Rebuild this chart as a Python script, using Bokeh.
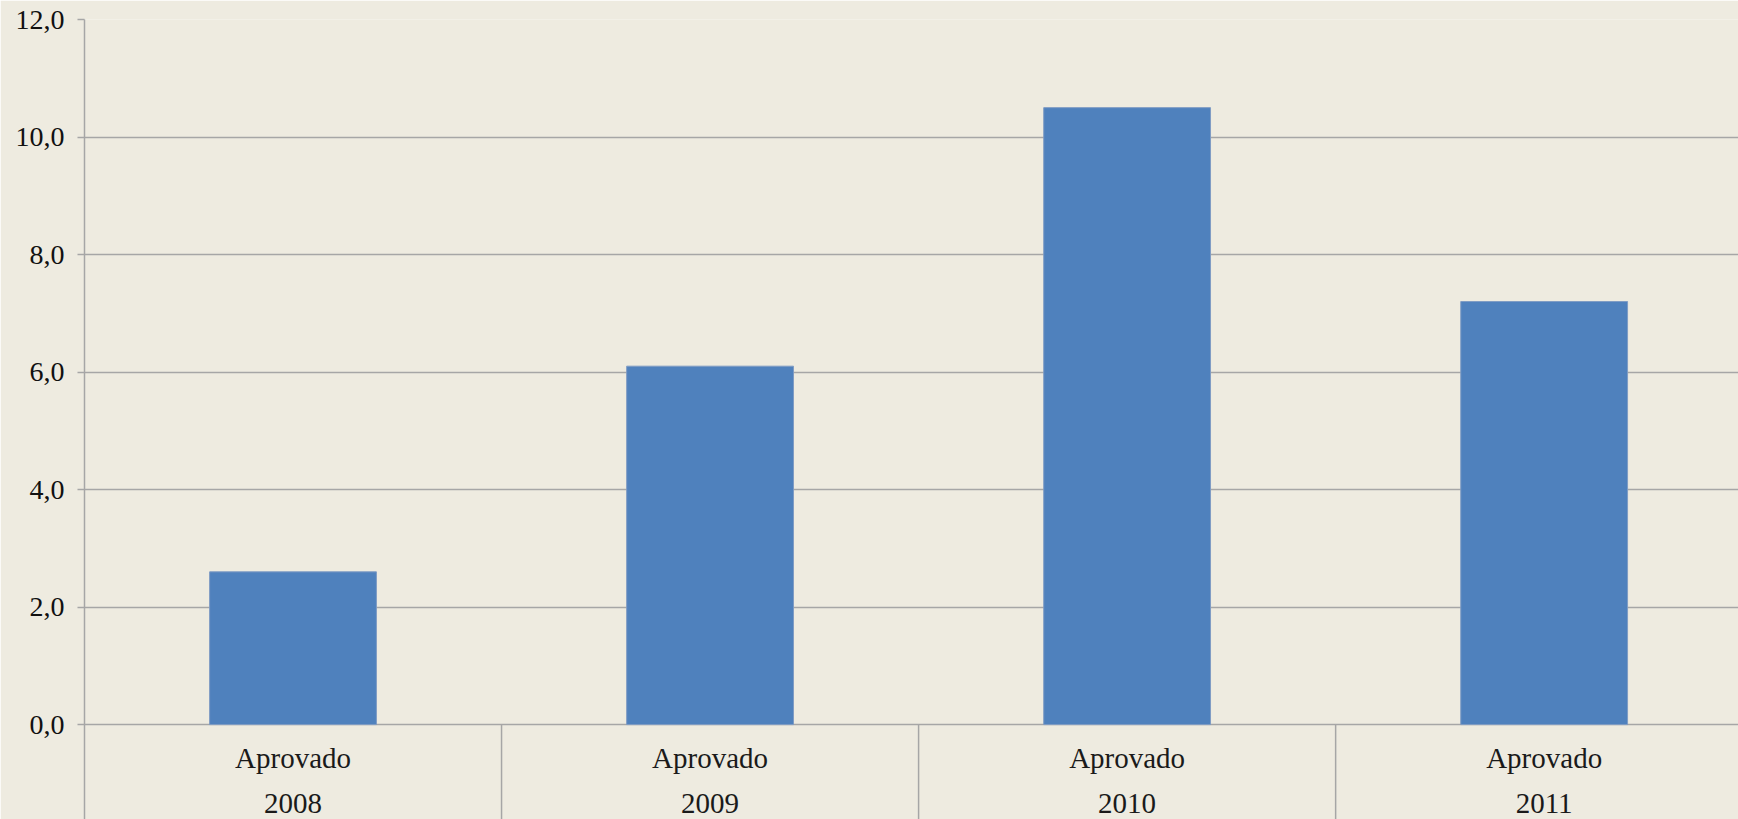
from bokeh.plotting import figure
from bokeh.models import Range1d, FixedTicker, ColumnDataSource
from bokeh.core.properties import value
from bokeh.embed import file_html
from bokeh.resources import INLINE

# ---- data ----
categories = ["Aprovado", "Aprovado", "Aprovado", "Aprovado"]
years = ["2008", "2009", "2010", "2011"]
values = [2.6, 6.1, 10.5, 7.2]
y_ticks = [0, 2, 4, 6, 8, 10, 12]
y_tick_labels = ["0,0", "2,0", "4,0", "6,0", "8,0", "10,0", "12,0"]

BG = "#EEEBE0"
GRID = "#A6A6A6"
BAR = "#4F81BD"
FONT = "Liberation Serif"
Y_MIN = -1.615

n = len(values)
centers = [i + 0.5 for i in range(n)]
bounds = [i + 1 for i in range(n - 1)]

p = figure(width=1738, height=819, output_backend="svg", toolbar_location=None,
           x_range=Range1d(0, 3.966), y_range=Range1d(Y_MIN, 12),
           x_axis_location=None, min_border_left=84, min_border_top=19,
           min_border_right=0, min_border_bottom=0)
p.background_fill_color = BG
p.border_fill_color = BG
p.outline_line_color = None

# bars
src = ColumnDataSource(dict(x=centers, top=values, cat=categories, yr=years))
p.vbar(x="x", top="top", bottom=0, width=0.4, source=src,
       fill_color=BAR, line_color="#7F9CC4", line_width=1)

# grid
p.xgrid.visible = False
p.ygrid.ticker = FixedTicker(ticks=y_ticks)
p.ygrid.grid_line_color = GRID
p.ygrid.grid_line_width = 1.5
p.ygrid.level = "underlay"

# y axis
ax = p.yaxis[0]
ax.ticker = FixedTicker(ticks=y_ticks)
ax.major_label_overrides = {t: l for t, l in zip(y_ticks, y_tick_labels)}
ax.axis_line_color = GRID
ax.axis_line_width = 1.5
ax.major_tick_line_color = GRID
ax.major_tick_line_width = 1.5
ax.major_tick_out = 7
ax.major_tick_in = 0
ax.minor_tick_line_color = None
ax.major_label_standoff = 13
ax.major_label_text_font = FONT
ax.major_label_text_font_size = "28px"
ax.major_label_text_color = "#111111"

# category separators below zero line
p.segment(x0=bounds, y0=[0] * len(bounds), x1=bounds, y1=[Y_MIN] * len(bounds),
          line_color=GRID, line_width=1.5)

# category labels
p.text(x="x", y=-0.56, text="cat", source=src, text_font=value(FONT),
       text_font_size="29px", text_align="center", text_baseline="middle",
       text_color="#1a1a1a")
p.text(x="x", y=-1.34, text="yr", source=src, text_font=value(FONT),
       text_font_size="29px", text_align="center", text_baseline="middle",
       text_color="#1a1a1a")

open("out.html", "w").write(file_html(p, INLINE))
